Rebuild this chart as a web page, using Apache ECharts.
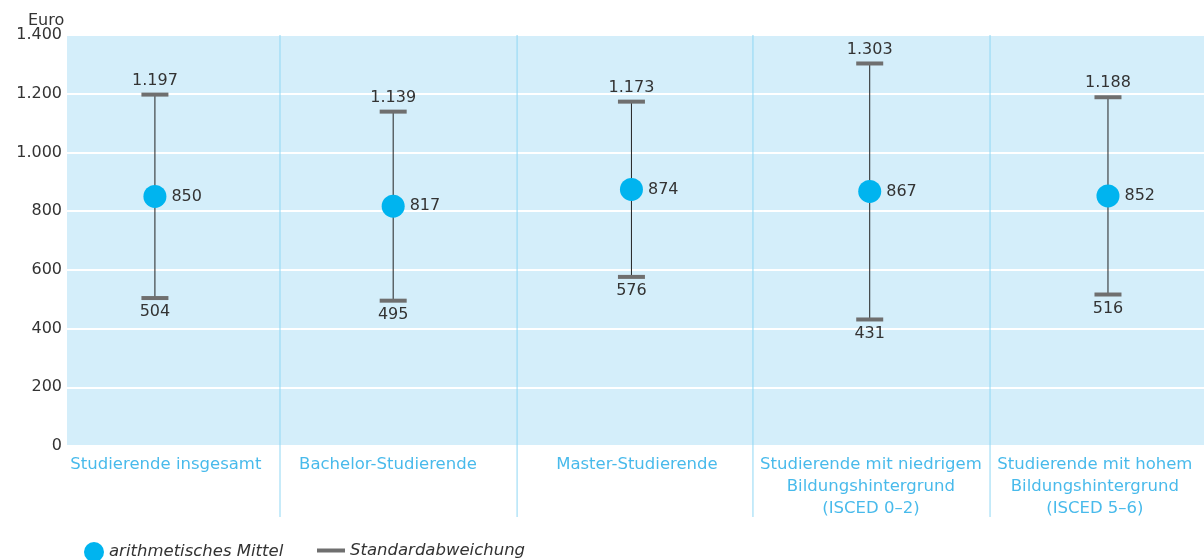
<!DOCTYPE html>
<html>
<head>
<meta charset="utf-8">
<script src="https://cdn.jsdelivr.net/npm/echarts@6/dist/echarts.min.js"></script>
<style>
  html, body { margin:0; padding:0; background:#fff; }
  #chart { width:1204px; height:560px; }
</style>
</head>
<body>
<div id="chart"></div>
<script>
// Kategorien (Spalten) und Werte in Euro
var categories = [
    'Studierende insgesamt',
    'Bachelor-Studierende',
    'Master-Studierende',
    'Studierende mit niedrigem\nBildungshintergrund\n(ISCED 0–2)',
    'Studierende mit hohem\nBildungshintergrund\n(ISCED 5–6)'
];
var meanValues  = [850, 817, 874, 867, 852];
var upperValues = [1197, 1139, 1173, 1303, 1188];
var lowerValues = [504, 495, 576, 431, 516];
var yTicks      = [0, 200, 400, 600, 800, 1000, 1200, 1400];

// Position der Spalten auf der x-Achse (Spaltenmitte = Index)
var catPos      = [0, 1, 2, 3, 4];
var labelPos    = [0.046, 0.978, 2.023, 3.005, 3.945];
var separators  = [0.525, 1.52, 2.51, 3.505];

var xMin = -0.369, xMax = 4.403;
var yMin = -236; // untere Verlaengerung fuer Trennlinien und Beschriftung

function fmt(v) {
    return String(v).replace(/\B(?=(\d{3})+(?!\d))/g, '.');
}

var chart = echarts.init(document.getElementById('chart'));
var font = 'DejaVu Sans, sans-serif';
var cyan = '#00b4ef';
var dark = '#333';

var errData = [], meanData = [], catData = [];
for (var i = 0; i < categories.length; ++i) {
    errData.push([catPos[i], lowerValues[i], upperValues[i]]);
    meanData.push([catPos[i], meanValues[i]]);
    catData.push([labelPos[i], 0, categories[i]]);
}

var option = {
    animation: false,
    textStyle: { fontFamily: font },
    title: { text:'Euro', left:23, top:8,
             textStyle:{ fontFamily:font, fontSize:16, fontWeight:'normal', color:dark } },
    grid: [
        { left:67, right:0, top:35, bottom:114, show:true, backgroundColor:'#d4eefa', borderWidth:0 },
        { left:67, right:0, top:35, bottom:43, show:false }
    ],
    legend: [
        { left:79, top:537, itemWidth:20, itemHeight:20, itemGap:8,
          data:[{ name:'arithmetisches Mittel', icon:'circle' }],
          textStyle:{ fontFamily:font, fontSize:16.5, fontStyle:'italic', color:dark } },
        { left:312, top:537, itemWidth:28, itemHeight:4, itemGap:9,
          data:[{ name:'Standardabweichung', icon:'rect' }],
          textStyle:{ fontFamily:font, fontSize:16.5, fontStyle:'italic', color:dark } }
    ],
    xAxis: [
        { type:'value', gridIndex:0, min:xMin, max:xMax, show:false },
        { type:'value', gridIndex:1, min:xMin, max:xMax, show:false }
    ],
    yAxis: [
        { type:'value', gridIndex:0, min:0, max:1400, interval:200,
          axisLine:{ show:false }, axisTick:{ show:false },
          axisLabel:{ fontSize:16, color:dark, margin:5,
                      formatter:function(v){ return fmt(v); } },
          splitLine:{ lineStyle:{ color:'#fff', width:2 } } },
        { type:'value', gridIndex:1, min:yMin, max:1400, show:false }
    ],
    series: [
        {
            name:'Trennlinien', type:'custom', xAxisIndex:1, yAxisIndex:1, silent:true,
            data: separators,
            renderItem: function(params, api) {
                var x = api.value(0);
                var top = api.coord([x, 1400]);
                var bot = api.coord([x, yMin]);
                return { type:'line', shape:{ x1:top[0], y1:top[1], x2:bot[0], y2:bot[1] },
                         style:{ stroke:'#8fd7f4', lineWidth:1 } };
            }
        },
        {
            name:'Standardabweichung', type:'custom', xAxisIndex:0, yAxisIndex:0,
            itemStyle:{ color:'#6f6f6f' },
            data: errData, z:3,
            renderItem: function(params, api) {
                var x = api.value(0);
                var lo = api.coord([x, api.value(1)]);
                var hi = api.coord([x, api.value(2)]);
                var hw = 13.5;
                return { type:'group', children:[
                    { type:'line', shape:{ x1:lo[0], y1:lo[1], x2:hi[0], y2:hi[1] },
                      style:{ stroke:'#222', lineWidth:1 } },
                    { type:'line', shape:{ x1:hi[0]-hw, y1:hi[1], x2:hi[0]+hw, y2:hi[1] },
                      style:{ stroke:'#6f6f6f', lineWidth:4 } },
                    { type:'line', shape:{ x1:lo[0]-hw, y1:lo[1], x2:lo[0]+hw, y2:lo[1] },
                      style:{ stroke:'#6f6f6f', lineWidth:4 } },
                    { type:'text', style:{ text:fmt(api.value(2)), x:hi[0], y:hi[1]-6,
                      align:'center', verticalAlign:'bottom', fontSize:16, fontFamily:font, fill:dark } },
                    { type:'text', style:{ text:fmt(api.value(1)), x:lo[0], y:lo[1]+6,
                      align:'center', verticalAlign:'top', fontSize:16, fontFamily:font, fill:dark } }
                ]};
            }
        },
        {
            name:'arithmetisches Mittel', type:'scatter', xAxisIndex:0, yAxisIndex:0,
            symbolSize:23, itemStyle:{ color:cyan, opacity:1 },
            label:{ show:true, position:'right', distance:5, fontSize:16, color:dark,
                    formatter:function(p){ return fmt(p.value[1]); } },
            data: meanData, z:5
        },
        {
            name:'cats', type:'scatter', xAxisIndex:1, yAxisIndex:1,
            symbolSize:0, silent:true,
            label:{ show:true, position:'bottom', distance:6, color:'#1aa9e6', fontSize:16.5, lineHeight:22,
                    align:'center',
                    formatter:function(p){ return p.value[2]; } },
            data: catData
        }
    ]
};
chart.setOption(option);
</script>
</body>
</html>
